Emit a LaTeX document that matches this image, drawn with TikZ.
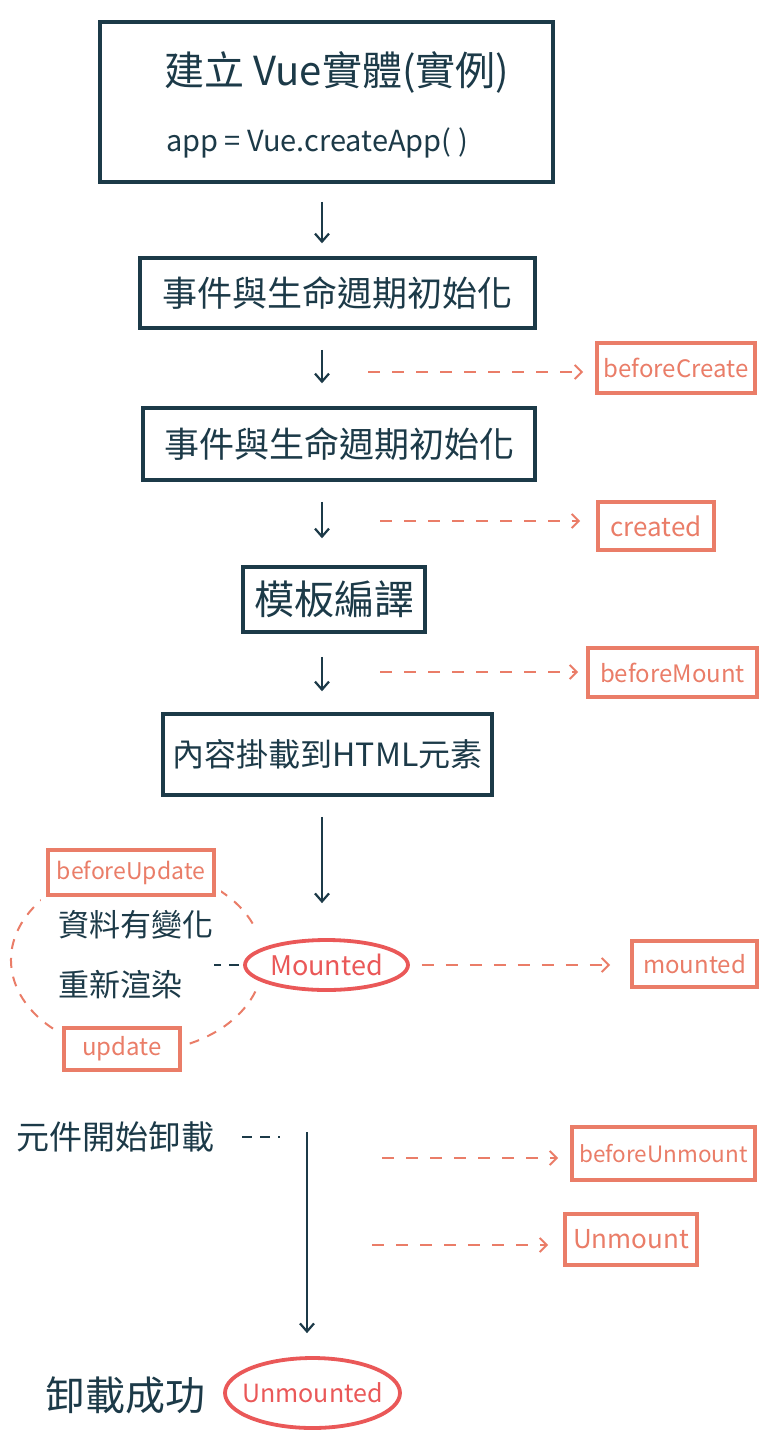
\documentclass[tikz,border=0pt]{standalone}
\usepackage{fontspec}
\setmainfont{Noto Sans CJK TC}
\usetikzlibrary{arrows.meta,shapes.geometric}
\definecolor{navy}{HTML}{1C3A48}
\definecolor{salmon}{HTML}{EA7D68}
\definecolor{redo}{HTML}{EA5858}
\newcommand{\myfs}[1]{\fontsize{#1pt}{#1pt}\selectfont}
\tikzset{
  stepbox/.style={draw=navy, line width=3.5pt, rectangle, inner sep=0pt, text=navy},
  hookbox/.style={draw=salmon, line width=3.8pt, rectangle, inner sep=0pt, text=salmon, fill=white, font=\myfs{24}},
  ovalbox/.style={draw=redo, line width=3.8pt, ellipse, inner ysep=0pt, inner xsep=-16pt, text=redo, fill=white},
  txt/.style={text=navy, inner sep=0pt},
  arr/.style={draw=navy, line width=2.5pt, -{Straight Barb[length=8pt,width=14pt,line width=2.2pt]}},
  darr/.style={draw=salmon, line width=2pt, dash pattern=on 12pt off 12pt, -{Straight Barb[length=7pt,width=14pt,line width=2pt]}},
  dline/.style={draw=navy, line width=2pt, dash pattern=on 10pt off 8pt},
  sline/.style={draw=salmon, line width=2pt, dash pattern=on 10pt off 9pt},
}
\begin{document}
\begin{tikzpicture}[x=1pt,y=-1pt]
\fill[white] (0,0) rectangle (763,1441);
\useasboundingbox (0,0) rectangle (763,1441);
\coordinate (colx) at (322,0);

% main flow
\node[stepbox, minimum width=453pt, minimum height=160pt] (b1) at (326.5,102) {};
\node[txt, font=\myfs{40}] (t1) at (337,72) {建立 Vue實體(實例)};
\node[txt, font=\myfs{29}] (t2) at (317,143) {app = Vue.createApp( )};
\node[stepbox, minimum width=395pt, minimum height=70pt, font=\myfs{35}] (b2) at (337.5,293) {事件與生命週期初始化};
\node[stepbox, minimum width=392pt, minimum height=72pt, font=\myfs{35}] (b3) at (339,444) {事件與生命週期初始化};
\node[stepbox, minimum width=182pt, minimum height=65pt, font=\myfs{40}] (b4) at (334,599.5) {模板編譯};
\node[stepbox, minimum width=329pt, minimum height=81pt, font=\myfs{32}] (b5) at (327.5,754.5) {內容掛載到HTML元素};

% update cycle
\draw[sline] (137,960) ++(20:126 and 92) arc[start angle=20, end angle=340, x radius=126, y radius=92];
\node[hookbox, minimum width=166pt, minimum height=45pt, draw=white, line width=14pt] (buw) at (131,872.5) {};
\node[hookbox, minimum width=166pt, minimum height=45pt, font=\myfs{23}] (bu) at (131,872.5) {beforeUpdate};
\node[hookbox, minimum width=116pt, minimum height=42pt, draw=white, line width=14pt] (upw) at (122,1049) {};
\node[hookbox, minimum width=116pt, minimum height=42pt] (up) at (122,1049) {update};
\node[txt, font=\myfs{31}, anchor=west] (r1) at (58,925) {資料有變化};
\node[txt, font=\myfs{31}, anchor=west] (r2) at (58,985) {重新渲染};

\node[ovalbox, minimum width=163pt, minimum height=50pt, font=\myfs{27}] (mo) at (326.5,965) {Mounted};
\coordinate (cy) at (214,965);
\draw[dline, shorten >=0pt, shorten <=4pt] (mo.west) -- (cy);

\draw[arr, shorten <=18pt, shorten >=13pt] (b1.south -| colx) -- (b2.north -| colx);
\draw[arr, shorten <=20pt, shorten >=23pt] (b2.south -| colx) -- (b3.north -| colx);
\draw[arr, shorten <=20pt, shorten >=27pt] (b3.south -| colx) -- (b4.north -| colx);
\draw[arr, shorten <=23pt, shorten >=21pt] (b4.south -| colx) -- (b5.north -| colx);
\draw[arr, shorten <=20pt, shorten >=35pt] (b5.south -| colx) -- (mo.north -| colx);

% hooks
\node[hookbox, minimum width=158pt, minimum height=50pt] (bc) at (676,368) {beforeCreate};
\node[hookbox, minimum width=116pt, minimum height=48pt, font=\myfs{26}] (cr) at (656,526) {created};
\node[hookbox, minimum width=169pt, minimum height=49pt] (bm) at (672.5,672.5) {beforeMount};
\node[hookbox, minimum width=125pt, minimum height=46pt] (mt) at (694.5,964) {mounted};
\coordinate (c1) at (368,372);
\coordinate (c2) at (380,521);
\coordinate (c3) at (380,672);
\draw[darr, shorten >=12pt] (c1) -- (c1 -| bc.west);
\draw[darr, shorten >=16pt] (c2) -- (c2 -| cr.west);
\draw[darr, shorten >=8pt] (c3) -- (c3 -| bm.west);
\draw[darr, shorten <=12pt, shorten >=20pt] (mo.east) -- (mo.east -| mt.west);

% unmount
\node[txt, font=\myfs{33}, anchor=west] (um0) at (16,1137) {元件開始卸載};
\coordinate (u0) at (307,1132);
\draw[dline, shorten <=28pt, shorten >=27pt] (um0.east) -- (u0 |- um0.east);
\node[ovalbox, minimum width=175pt, minimum height=70pt, font=\myfs{25}] (unm) at (312.5,1393) {Unmounted};
\node[txt, font=\myfs{40}, anchor=east] (ok) at (206,1395) {卸載成功};
\draw[arr, shorten >=23pt] (u0) -- (u0 |- unm.north);

\node[hookbox, minimum width=183pt, minimum height=53pt, font=\myfs{22.5}] (bum) at (663.5,1153.5) {beforeUnmount};
\node[hookbox, minimum width=132pt, minimum height=51pt, font=\myfs{26}] (umt) at (631,1239.5) {Unmount};
\coordinate (c5) at (382,1158);
\coordinate (c6) at (372,1245);
\draw[darr, shorten >=12pt] (c5) -- (c5 -| bum.west);
\draw[darr, shorten >=15pt] (c6) -- (c6 -| umt.west);
\end{tikzpicture}
\end{document}
